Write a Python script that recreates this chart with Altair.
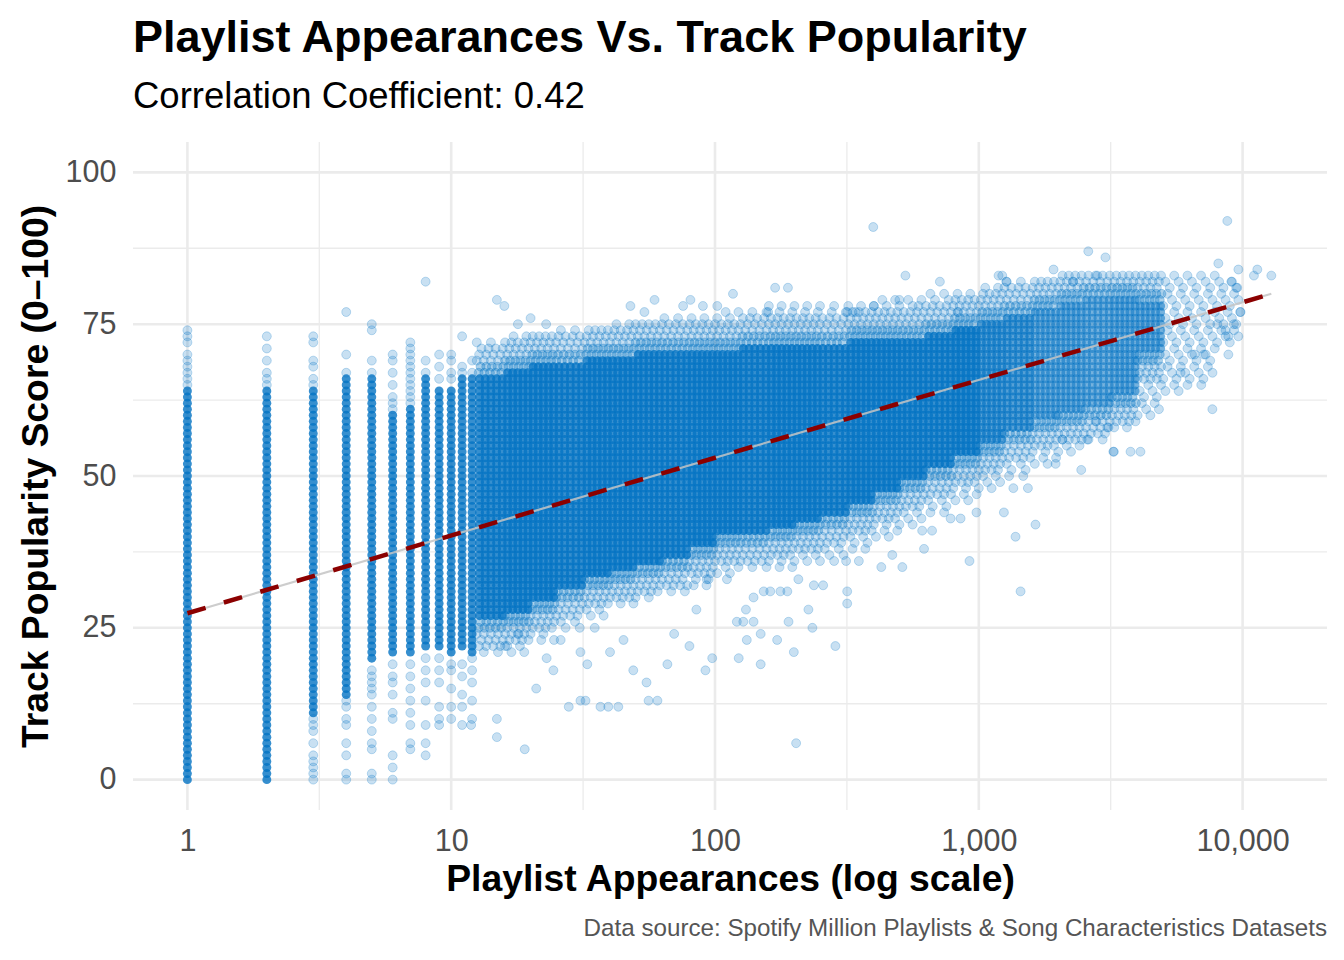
import altair as alt
import numpy as np
import pandas as pd

# ---------------- data ----------------
TITLE = "Playlist Appearances Vs. Track Popularity"
SUBTITLE = "Correlation Coefficient: 0.42"
X_TITLE = "Playlist Appearances (log scale)"
Y_TITLE = "Track Popularity Score (0\u2013100)"
CAPTION = "Data source: Spotify Million Playlists & Song Characteristics Datasets"

x_ticks = [1, 10, 100, 1000, 10000]
x_minor = [3.162, 31.62, 316.2, 3162]
y_ticks = [0, 25, 50, 75, 100]
y_minor = [12.5, 37.5, 62.5, 87.5]

# tracks with few playlist appearances: integer columns
col_x = [1, 2, 3, 4, 5, 6, 7, 8, 9, 10, 11, 12]
col_dense_lo = [0, 0, 11, 14, 20, 21, 21, 22, 22, 21, 22, 21]
col_dense_hi = [64, 64, 64, 66, 66, 60, 61, 66, 64, 64, 66, 66]
col_sparse = [
    [65, 66, 67, 68, 69, 70, 72, 73, 74],
    [65, 66, 67, 69, 71, 73],
    [0, 1, 2, 3, 4, 6, 8, 9, 10, 65, 66, 68, 69, 72, 73],
    [0, 1, 4, 6, 9, 10, 12, 13, 67, 70, 77],
    [0, 1, 5, 6, 8, 10, 12, 14, 15, 16, 17, 18, 67, 69, 74, 75],
    [0, 2, 4, 10, 11, 14, 16, 17, 19, 61, 62, 63, 65, 67, 69, 70],
    [5, 6, 9, 11, 13, 15, 17, 19, 62, 63, 64, 65, 66, 67, 68, 69, 70, 71, 72],
    [4, 6, 9, 13, 16, 18, 20, 67, 69, 82],
    [9, 10, 12, 16, 18, 20, 66, 68, 70],
    [10, 12, 15, 18, 19, 66, 67, 69, 70],
    [9, 12, 14, 17, 19, 67, 68, 73],
    [10, 13, 16, 18, 20, 67, 69],
]

# the main cloud: per band of appearances, dense core and lighter fringe (popularity)
band_edges = [12.5, 16, 20, 25, 32, 40, 50, 63, 80, 100, 125, 160, 200, 250, 320,
              400, 500, 630, 800, 1000, 1250, 1600, 2000, 2500, 3200, 4000, 5000,
              6300, 8000, 10000]
core_lo = [27, 28, 30, 32, 34, 35, 36, 37, 39, 41, 41, 42, 43, 44, 46, 48, 50, 52, 54,
           56, 58, 60, 61, 62, 64, 71, None, None, None]
core_hi = [66, 67, 68, 68, 69, 69, 70, 70, 70, 70, 71, 71, 71, 71, 72, 72, 72, 73, 74,
           75, 76, 77, 78, 79, 79, 78, None, None, None]
fringe_lo = [21, 21, 23, 25, 27, 29, 30, 31, 32, 34, 35, 35, 36, 36, 38, 40, 42, 44, 46,
             48, 50, 52, 54, 56, 58, 60, 64, 66, 72]
fringe_hi = [72, 73, 73, 74, 74, 75, 75, 76, 76, 77, 77, 78, 78, 78, 78, 79, 79, 80, 80,
             81, 82, 82, 83, 83, 83, 83, 83, 83, 82]

# individual stray tracks (appearances, popularity)
strays = [
    (14.9, 79), (15.9, 78), (20, 76), (22.9, 75), (17.9, 75), (47.8, 78), (59, 79),
    (54, 77), (75.7, 78), (80.7, 79), (90, 78), (102, 78), (117, 80), (169, 81),
    (189, 81), (159, 77), (398, 91), (500, 79), (591, 78), (400, 78), (317, 77),
    (341, 77), (835, 77), (527, 83), (712, 82), (1188, 83), (1227, 83), (1271, 82),
    (1920, 84), (2600, 87), (3020, 86), (2275, 82), (2812, 83),
    (8750, 92), (8090, 85), (9640, 84), (11370, 84), (11040, 83), (12850, 83),
    (9060, 82), (9540, 81), (9800, 77), (9270, 75), (8620, 74), (8830, 73),
    (8020, 75), (6580, 70), (7130, 70), (8830, 70), (5820, 67), (6970, 65),
    (7680, 61), (3250, 54), (3760, 54), (4100, 54), (2790, 59), (3100, 58),
    (14.9, 7), (19, 5), (203, 6), (11.9, 9), (14.9, 10), (27.9, 12), (30.9, 13),
    (32.3, 13), (36.8, 12), (39.4, 12), (43, 12), (56, 13), (60.5, 13), (286, 22),
    (199, 21), (149, 19), (123, 20), (92, 18), (97.6, 20), (66, 19), (55, 16),
    (49, 18), (32.8, 19), (40, 21), (24.4, 18), (30.9, 21), (132, 23), (172, 23),
    (226, 28), (317, 31), (317, 29), (257, 32), (188, 31), (149, 24), (190, 26),
    (234, 25), (237, 32), (207, 33), (153, 31), (162, 31), (177, 31), (131, 28),
    (140, 30), (121, 26), (128, 26), (140, 26), (93, 33), (111, 33), (427, 35),
    (513, 35), (314, 36), (351, 36), (620, 38), (470, 37), (610, 41), (665, 41),
    (782, 43), (853, 43), (980, 44), (1245, 44), (922, 36), (1378, 40), (1640, 42),
    (1440, 31), (1955, 52), (2445, 51), (3236, 54), (2071, 56), (2577, 56),
    (1352, 48), (1535, 48), (16, 22), (18, 24), (21, 15), (23, 20), (26, 23),
    (35, 25), (45, 23), (70, 24), (80, 22), (85, 28),
]

# fitted trend line end points
trend_x = [1, 12850]
trend_y = [27.4, 80.0]

# ---------------- build tables ----------------
dense_rows, mid_rows, light_rows = [], [], []
for cx, lo, hi, extra in zip(col_x, col_dense_lo, col_dense_hi, col_sparse):
    for v in range(lo, hi + 1):
        dense_rows.append((cx, v))
    for v in extra:
        light_rows.append((cx, v))

for k in range(len(band_edges) - 1):
    a, b = np.log10(band_edges[k]), np.log10(band_edges[k + 1])
    clo, chi = core_lo[k], core_hi[k]
    if clo is not None:
        for m in range(5):
            lx = a + (b - a) * (m + 0.5) / 5
            for v in range(clo, chi + 1):
                dense_rows.append((10 ** lx, v))
    for v in range(fringe_lo[k], fringe_hi[k] + 1):
        if clo is not None and clo <= v <= chi:
            continue
        d = (clo - v if v < clo else v - chi) if clo is not None else 99
        shift = (v % 3) / 3.0
        if d <= 2:
            for m in range(5):
                mid_rows.append((10 ** (a + (b - a) * (m + shift) / 5), v))
        elif d <= 5:
            for m in range(4):
                light_rows.append((10 ** (a + (b - a) * (m + shift) / 4), v))
        else:
            for m in range(4):
                if (m + v) % 2 == 0:
                    light_rows.append((10 ** (a + (b - a) * (m + shift) / 4), v))

light_rows += strays

dense = pd.DataFrame(dense_rows, columns=["appearances", "popularity"])
dense["op"] = np.where(dense["appearances"] < 1000, 0.8,
                       np.where(dense["appearances"] < 1600, 0.68, 0.55))
mid = pd.DataFrame(mid_rows, columns=["appearances", "popularity"])
light = pd.DataFrame(light_rows, columns=["appearances", "popularity"])
trend = pd.DataFrame({"appearances": trend_x, "popularity": trend_y})

FONT = "Liberation Sans"
BLUE = "#0473C3"
W, H = 1194, 668
SIZE = 80

xscale = alt.Scale(type="log", domain=[0.622, 20890], nice=False)
yscale = alt.Scale(domain=[-5, 105], nice=False, zero=False)

xaxis = alt.Axis(values=x_ticks, labelExpr="format(datum.value, ',')", title=X_TITLE,
                 grid=False, domain=False, ticks=False, tickSize=0, labelPadding=16,
                 titlePadding=5, labelFlush=False, labelOverlap=False)
yaxis = alt.Axis(values=y_ticks, title=Y_TITLE, grid=False, domain=False, ticks=False,
                 tickSize=0, labelPadding=17, titlePadding=10)

X = alt.X("appearances:Q", scale=xscale, axis=xaxis)
Y = alt.Y("popularity:Q", scale=yscale, axis=yaxis)

grid_major_y = alt.Chart(pd.DataFrame({"popularity": y_ticks})).mark_rule(
    color="#EBEBEB", strokeWidth=2.6).encode(y=Y)
grid_minor_y = alt.Chart(pd.DataFrame({"popularity": y_minor})).mark_rule(
    color="#EBEBEB", strokeWidth=1.3).encode(y=Y)
grid_major_x = alt.Chart(pd.DataFrame({"appearances": x_ticks})).mark_rule(
    color="#EBEBEB", strokeWidth=2.6).encode(x=X)
grid_minor_x = alt.Chart(pd.DataFrame({"appearances": x_minor})).mark_rule(
    color="#EBEBEB", strokeWidth=1.3).encode(x=X)

core = alt.Chart(dense).mark_circle(size=SIZE, color=BLUE).encode(
    x=X, y=Y, opacity=alt.Opacity("op:Q", scale=None, legend=None))
mid_pts = alt.Chart(mid).mark_point(
    shape="circle", filled=True, size=SIZE, fill=BLUE, fillOpacity=0.33,
    stroke=BLUE, strokeOpacity=0.35, strokeWidth=0.8).encode(x=X, y=Y)
light_pts = alt.Chart(light).mark_point(
    shape="circle", filled=True, size=SIZE, fill=BLUE, fillOpacity=0.22,
    stroke=BLUE, strokeOpacity=0.3, strokeWidth=0.8).encode(x=X, y=Y)

grey_line = alt.Chart(trend).mark_line(color="#C4C4C4", strokeWidth=2.2, opacity=0.85).encode(
    x=X, y=Y)
red_line = alt.Chart(trend).mark_line(color="#8B0000", strokeWidth=4.5,
                                      strokeDash=[19, 19]).encode(x=X, y=Y)

caption = alt.Chart(pd.DataFrame({"t": [CAPTION]})).mark_text(
    align="right", baseline="alphabetic", font=FONT, fontSize=24.2, color="#555555"
).encode(text="t:N", x=alt.value(W), y=alt.value(794))

chart = alt.layer(
    grid_minor_y, grid_minor_x, grid_major_y, grid_major_x,
    core, mid_pts, light_pts, grey_line, red_line, caption,
).properties(
    width=W, height=H,
    title=alt.TitleParams(
        text=TITLE, subtitle=SUBTITLE, anchor="start", frame="group",
        font=FONT, fontSize=45, fontWeight="bold", color="black",
        subtitleFont=FONT, subtitleFontSize=36.5, subtitleColor="black",
        subtitleFontWeight="normal", subtitlePadding=18, offset=25,
    ),
    padding={"left": 125, "top": 134, "right": 9, "bottom": 142},
    autosize=alt.AutoSizeParams(type="none"),
).configure_view(stroke=None).configure_axis(
    labelFont=FONT, labelFontSize=30.5, labelColor="#4D4D4D",
    titleFont=FONT, titleFontSize=37.3, titleFontWeight="bold", titleColor="black",
)

chart.save("out.html", embed_options={"renderer": "svg", "actions": False})
